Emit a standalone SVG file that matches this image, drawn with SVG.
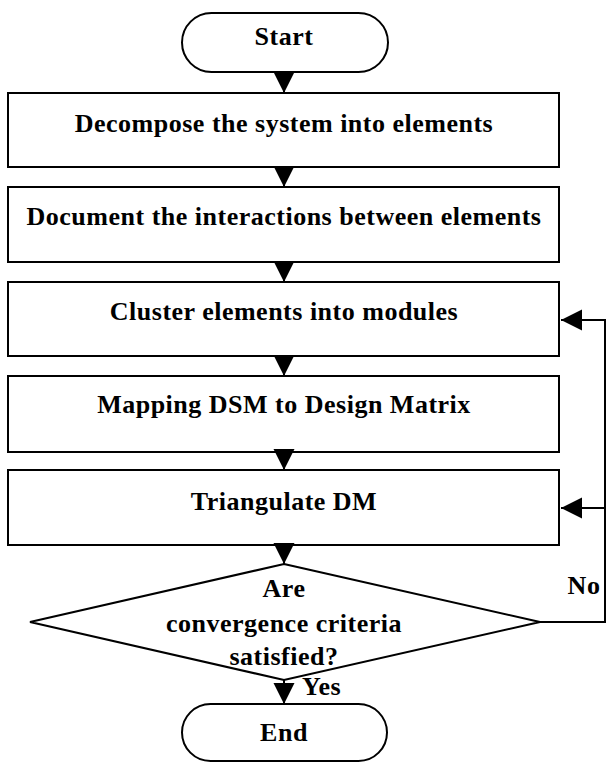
<svg xmlns="http://www.w3.org/2000/svg" width="607" height="763" viewBox="0 0 607 763">
<style>
.s{fill:#fff;stroke:#000;stroke-width:2}
.t{font-family:"Liberation Serif","Times New Roman",serif;font-weight:bold;font-size:26px;fill:#000;text-anchor:middle;letter-spacing:0.5px}
.c{fill:none;stroke:#000;stroke-width:2}
</style>
<defs>
<marker id="ah" markerUnits="userSpaceOnUse" markerWidth="22" markerHeight="22" viewBox="0 0 22 22" refX="21" refY="11" orient="auto">
<path d="M0,0.5 L21,11 L0,21.5 Z" fill="#000"/>
</marker>
</defs>
<g id="start"><rect class="s" x="182" y="13" width="206" height="59" rx="29.5"/><text class="t" x="284" y="45">Start</text></g>
<g id="decompose"><rect class="s" x="8" y="93" width="551" height="74"/><text class="t" x="284" y="132">Decompose the system into elements</text></g>
<g id="document"><rect class="s" x="8" y="187" width="551" height="75"/><text class="t" x="284" y="225">Document the interactions between elements</text></g>
<g id="cluster"><rect class="s" x="8" y="282" width="551" height="74"/><text class="t" x="284" y="320">Cluster elements into modules</text></g>
<g id="mapping"><rect class="s" x="8" y="376" width="551" height="76"/><text class="t" x="284" y="413">Mapping DSM to Design Matrix</text></g>
<g id="triangulate"><rect class="s" x="8" y="470" width="551" height="75"/><text class="t" x="284" y="510">Triangulate DM</text></g>
<g id="decision"><polygon class="s" points="284,564 540,622 284,680 30,622"/><text class="t" x="284" y="597">Are</text><text class="t" x="284" y="632">convergence criteria</text><text class="t" x="284" y="665">satisfied?</text></g>
<g id="end"><rect class="s" x="182" y="704" width="205" height="57" rx="28.5"/><text class="t" x="284" y="741">End</text></g>
<g id="connectors">
<line class="c" x1="284" y1="72" x2="284" y2="93" marker-end="url(#ah)"/>
<line class="c" x1="284" y1="167" x2="284" y2="187" marker-end="url(#ah)"/>
<line class="c" x1="284" y1="262" x2="284" y2="282" marker-end="url(#ah)"/>
<line class="c" x1="284" y1="356" x2="284" y2="376" marker-end="url(#ah)"/>
<line class="c" x1="284" y1="452" x2="284" y2="470" marker-end="url(#ah)"/>
<line class="c" x1="284" y1="545" x2="284" y2="564" marker-end="url(#ah)"/>
<line class="c" x1="284" y1="680" x2="284" y2="704" marker-end="url(#ah)"/>
<path class="c" d="M540,622 H605 V320 H561" marker-end="url(#ah)"/>
<path class="c" d="M605,508 H561" marker-end="url(#ah)"/>
<text class="t" x="584" y="594">No</text>
<text class="t" x="302" y="695" style="text-anchor:start">Yes</text>
</g>
</svg>
